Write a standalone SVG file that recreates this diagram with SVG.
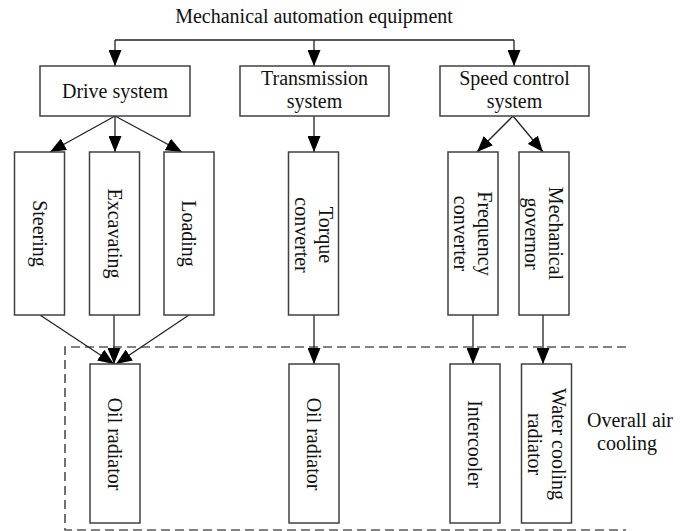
<svg xmlns="http://www.w3.org/2000/svg" width="685" height="531" viewBox="0 0 685 531">
<style>
text{font-family:"Liberation Serif","Times New Roman",serif;font-size:20px;fill:#111}
.box{fill:#fff;stroke:#404040;stroke-width:1.5}
.c{fill:none;stroke:#222;stroke-width:1.3}
.a{marker-end:url(#ah)}
.dash{fill:none;stroke:#5a5a5a;stroke-width:1.7;stroke-dasharray:9 5}
.m{text-anchor:middle}
</style>
<defs>
<marker id="ah" viewBox="0 0 16 13" refX="16" refY="6.5" markerWidth="16" markerHeight="13" markerUnits="userSpaceOnUse" orient="auto">
<path d="M0,0 L16,6.5 L0,13 z" fill="#000"/>
</marker>
</defs>
<rect width="685" height="531" fill="#fff"/>
<text id="title" class="m" x="314" y="23">Mechanical automation equipment</text>
<g id="cooling-zone">
<path class="dash" d="M626,347 H65 V530 H626"/>
<text class="m" x="630" y="427">Overall air</text>
<text class="m" x="627" y="450">cooling</text>
</g>
<g id="connectors">
<path class="c" d="M115,40 H514"/>
<path class="c a" d="M115,40 V66"/>
<path class="c a" d="M314,40 V66"/>
<path class="c a" d="M514,40 V66"/>
<path class="c a" d="M115,116 L50,152"/>
<path class="c a" d="M115,116 V152"/>
<path class="c a" d="M115,116 L182,152"/>
<path class="c a" d="M314,116 V152"/>
<path class="c a" d="M513,116 L477,152"/>
<path class="c a" d="M513,116 L543,152"/>
<path class="c a" d="M40,315 L114,364"/>
<path class="c a" d="M114,315 V364"/>
<path class="c a" d="M189,315 L116,364"/>
<path class="c a" d="M314,315 V364"/>
<path class="c a" d="M473,315 V364"/>
<path class="c a" d="M543,315 V364"/>
</g>
<g id="drive">
<rect class="box" x="40" y="66" width="150" height="50"/>
<text class="m" x="115" y="98">Drive system</text>
</g>
<g id="transmission">
<rect class="box" x="240" y="66" width="149" height="50"/>
<text class="m" x="314.5" y="85">Transmission</text>
<text class="m" x="314.5" y="108">system</text>
</g>
<g id="speed">
<rect class="box" x="440" y="66" width="149" height="50"/>
<text class="m" x="514.5" y="85">Speed control</text>
<text class="m" x="514.5" y="108">system</text>
</g>
<g id="steering">
<rect class="box" x="14.5" y="152" width="50" height="163"/>
<text class="m" transform="translate(39.5,233.5) rotate(90)" y="7">Steering</text>
</g>
<g id="excavating">
<rect class="box" x="89.5" y="152" width="50" height="163"/>
<text class="m" transform="translate(114.5,233.5) rotate(90)" y="7">Excavating</text>
</g>
<g id="loading">
<rect class="box" x="164" y="152" width="50" height="163"/>
<text class="m" transform="translate(189,233.5) rotate(90)" y="7">Loading</text>
</g>
<g id="torque">
<rect class="box" x="288.5" y="152" width="50" height="163"/>
<text class="m" transform="translate(313.5,235) rotate(90)" y="-5">Torque</text>
<text class="m" transform="translate(313.5,235) rotate(90)" y="19">converter</text>
</g>
<g id="frequency">
<rect class="box" x="448" y="152" width="50" height="163"/>
<text class="m" transform="translate(473,233.5) rotate(90)" y="-5">Frequency</text>
<text class="m" transform="translate(473,233.5) rotate(90)" y="19">converter</text>
</g>
<g id="governor">
<rect class="box" x="519" y="152" width="50" height="163"/>
<text class="m" transform="translate(544,233.5) rotate(90)" y="-5">Mechanical</text>
<text class="m" transform="translate(544,233.5) rotate(90)" y="19">governor</text>
</g>
<g id="oil1">
<rect class="box" x="90" y="364" width="50" height="159"/>
<text class="m" transform="translate(115,444) rotate(90)" y="7">Oil radiator</text>
</g>
<g id="oil2">
<rect class="box" x="289" y="364" width="50" height="159"/>
<text class="m" transform="translate(314,444) rotate(90)" y="7">Oil radiator</text>
</g>
<g id="intercooler">
<rect class="box" x="450" y="364" width="50" height="159"/>
<text class="m" transform="translate(475,444) rotate(90)" y="7">Intercooler</text>
</g>
<g id="water">
<rect class="box" x="521.5" y="364" width="50" height="159"/>
<text class="m" transform="translate(546.5,444) rotate(90)" y="-5">Water cooling</text>
<text class="m" transform="translate(546.5,444) rotate(90)" y="19">radiator</text>
</g>
</svg>
